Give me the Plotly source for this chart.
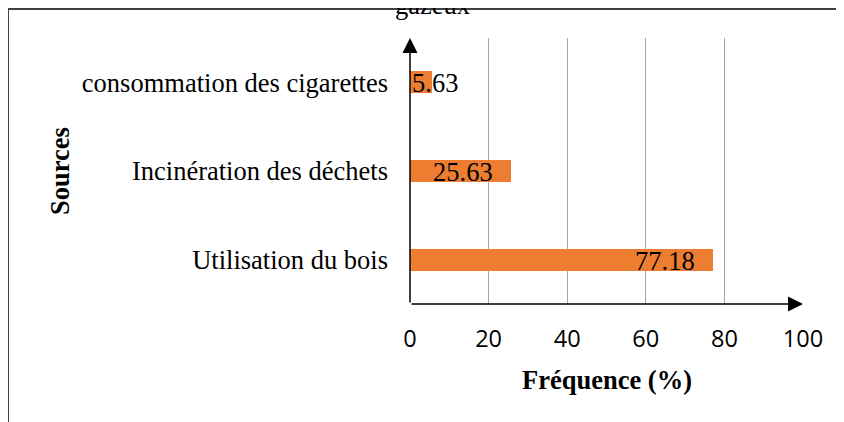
import plotly.graph_objects as go

sources = ["Utilisation du bois", "Incinération des déchets", "consommation des cigarettes"]
frequence = [77.18, 25.63, 5.63]
x_ticks = [0, 20, 40, 60, 80, 100]

ORANGE = "#ED7D31"
serif = "Liberation Serif, Times New Roman, serif"

fig = go.Figure(
    go.Bar(
        x=frequence,
        y=sources,
        orientation="h",
        width=0.25,
        marker=dict(color=ORANGE, line=dict(width=0)),
        hoverinfo="skip",
    )
)

# value labels, Excel "inside end" style; short bars keep the label at the base
for src, val in zip(sources, frequence):
    if val > 15:
        fig.add_annotation(x=val, y=src, text=f"{val:.2f}", showarrow=False,
                           xanchor="right", xshift=-16, yshift=-1,
                           font=dict(family=serif, size=26.5, color="black"))
    else:
        fig.add_annotation(x=0, y=src, text=f"{val:.2f}", showarrow=False,
                           xanchor="left", xshift=0, yshift=-1,
                           font=dict(family=serif, size=26.5, color="black"))

# axes drawn as arrows
fig.add_annotation(x=100, y=-0.5, ax=0, ay=-0.5, xref="x", yref="y", axref="x", ayref="y",
                   text="", showarrow=True, arrowhead=2, arrowsize=2, arrowwidth=1.5,
                   arrowcolor="black")
fig.add_annotation(x=0, y=2.5, ax=0, ay=-0.5, xref="x", yref="y", axref="x", ayref="y",
                   text="", showarrow=True, arrowhead=2, arrowsize=2, arrowwidth=1.5,
                   arrowcolor="black")

# axis titles
fig.add_annotation(x=0.5, y=-0.2857, xref="paper", yref="paper", text="<b>Fréquence (%)</b>",
                   showarrow=False, xanchor="center", yanchor="middle",
                   font=dict(family=serif, size=26.5, color="black"))
fig.add_annotation(x=-0.8906, y=0.5, xref="paper", yref="paper", text="<b>Sources</b>",
                   showarrow=False, textangle=-90, xanchor="center", yanchor="middle",
                   font=dict(family=serif, size=26.5, color="black"))

# cut-off title line
fig.add_annotation(x=0.056, y=1.124, xref="paper", yref="paper", text="gazeux",
                   showarrow=False, xanchor="center", yanchor="middle",
                   font=dict(family=serif, size=26.5, color="black"))

# outer frame (only top and left edges visible)
fig.add_shape(type="rect", xref="paper", yref="paper", x0=-1.0229, x1=1.2, y0=-0.6, y1=1.109,
              line=dict(color="#404040", width=2), fillcolor="rgba(0,0,0,0)", layer="above")

fig.update_xaxes(
    range=[0, 100],
    tickvals=x_ticks,
    showgrid=True,
    gridcolor="#a6a6a6",
    gridwidth=1,
    zeroline=False,
    showline=False,
    ticks="",
    ticklabelstandoff=18,
    tickfont=dict(family="Open Sans", size=23.5, color="black"),
    fixedrange=True,
)
fig.update_yaxes(
    categoryorder="array",
    categoryarray=sources,
    range=[-0.5, 2.5],
    showgrid=False,
    zeroline=False,
    showline=False,
    ticks="",
    ticklabelstandoff=21,
    tickfont=dict(family=serif, size=26.5, color="black"),
    fixedrange=True,
)

# the page adds an 8px body margin, so the figure is laid out 8px up/left
fig.update_layout(
    width=844,
    height=422,
    margin=dict(l=402, r=49, t=30, b=126),
    plot_bgcolor="white",
    paper_bgcolor="white",
    showlegend=False,
    bargap=0,
)

fig.write_html("out.html", post_script="document.body.style.overflow='hidden';")
